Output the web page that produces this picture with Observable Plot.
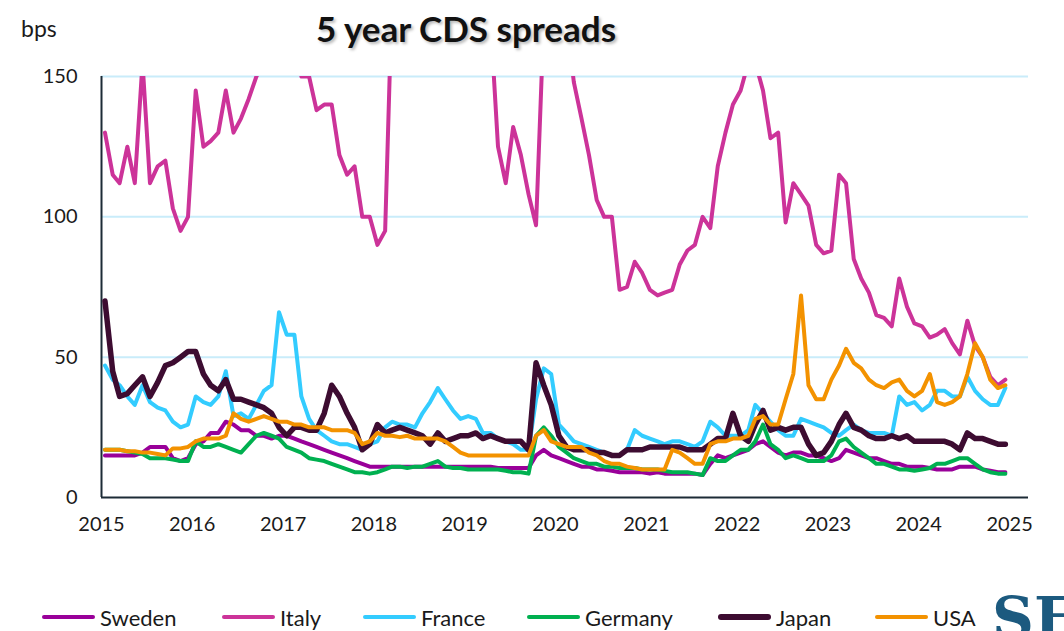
<!DOCTYPE html>
<html>
<head>
<meta charset="utf-8">
<script src="https://cdn.jsdelivr.net/npm/d3@7"></script>
<script src="https://cdn.jsdelivr.net/npm/@observablehq/plot@0.6"></script>
<style>
  body { margin: 0; background: #fff; font-family: Lato, "Open Sans", sans-serif; color: #1a1a1a; }
  #wrap { position: relative; width: 1064px; height: 631px; overflow: hidden; background: #fff; }
  #chart { position: absolute; left: 0; top: 0; }
  #title { position: absolute; left: 0; width: 932px; top: 7px; text-align: center; font-weight: 700; font-size: 35px; line-height: 42px; color: #111; text-shadow: 2px 2px 3px rgba(0,0,0,0.28); }
  #unit { position: absolute; left: 21px; top: 12px; font-size: 23px; line-height: 32px; color: #1a1a1a; }
  .leg { position: absolute; top: 603px; height: 28px; display: flex; align-items: center; font-size: 22px; color: #1a1a1a; white-space: nowrap; }
  .leg .sw { width: 53px; border-radius: 3px; margin-right: 5px; }
  #logo { position: absolute; left: 992px; top: 588px; font-family: "DejaVu Serif", serif; font-weight: 700; font-size: 58px; line-height: 60px; color: #1c5a7f; }
</style>
</head>
<body>
<div id="wrap">
  <div id="chart"></div>
  <div id="title">5 year CDS spreads</div>
  <div id="unit">bps</div>
  <div id="legend"></div>
  <div id="logo">SE</div>
</div>
<script>
// Monthly values, Jan 2015 .. Dec 2024 (one per month), bps
const names  = ["Sweden", "Italy", "France", "Germany", "Japan", "USA"];
const colors = ["#990099", "#cc3399", "#33ccff", "#00b050", "#3d0c31", "#f39200"];
const widths = [4, 4, 4, 4, 5.5, 4];
const yearTicks = [2015, 2016, 2017, 2018, 2019, 2020, 2021, 2022, 2023, 2024, 2025];
const yTicks = [0, 50, 100, 150];

const sweden = [
  15,15,15,15,15,16,18,18,18,14,13,14,
  19,20,23,23,27,26,24,24,22,22,21,22,
  22,21,20,19,18,17,16,15,14,13,12,11,
  11,11,11,11,11,11,11,11,11,11,11,11,
  11,11,11,11,10.5,10.5,10.5,10.5,10.5,15,17,15,
  14,13,12,11,11,10,10,9.5,9,9,9,9,
  8.5,9,8.5,8.5,8.5,8.5,8.5,8,12,15,14,15,
  16,17,19,20,18,16,15,16,16,15,15,14,
  13,14,17,16,15,14,14,13,12,12,11,11,
  11,10.5,10,10,10,11,11,11,10,9.5,9,9
];
const italy = [
  130,115,112,125,112,155,112,118,120,103,95,100,
  145,125,127,130,145,130,135,142,150,155,165,170,
  175,185,150,150,138,140,140,122,115,118,100,100,
  90,95,180,230,260,250,240,270,280,260,250,230,
  210,200,190,170,125,112,132,122,108,97,170,200,
  190,170,148,135,122,106,100,100,74,75,84,80,
  74,72,73,74,83,88,90,100,96,118,130,140,
  145,155,155,145,128,130,98,112,108,104,90,87,
  88,115,112,85,78,73,65,64,61,78,68,62,
  61,57,58,60,55,51,63,54,50,43,40,42
];
const france = [
  47,42,40,36,33,40,34,32,31,27,25,26,
  36,34,33,36,45,29,30,28,33,38,40,66,
  58,58,36,28,24,22,20,19,19,18,17,19,
  20,25,27,26,26,25,30,34,39,35,31,28,
  29,28,23,23,21,20,19,17,17,35,46,44,
  26,23,20,19,18,17,16,15,15,17,24,22,
  21,20,19,20,20,19,18,20,27,25,22,22,
  22,24,33,30,27,24,22,22,28,27,26,25,
  23,22,24,26,24,23,23,23,22,36,33,34,
  31,33,38,38,36,36,43,38,35,33,33,39
];
const germany = [
  17,17,17,16.5,16,15.5,14,14,14,13.5,13,13,
  20,18,18,19,18,17,16,19,22,23,22,21,
  18,17,16,14,13.5,13,12,11,10,9,9,8.5,
  9,10,11,11,10.5,11,11,12,13,11,10.5,10.5,
  10,10,10,10,10,9.5,9,9,8.5,22,25,22,
  18,16,14,13,12,12,11,11,10.5,10.5,10.5,10,
  10,10,9.5,9,9,9,8.5,8,14,13,13,15,
  17,17,20,26,19,17,14,15,14,13,13,13,
  15,20,21,18,16,14,12,12,11,10,10,9.5,
  10,10.5,12,12,13,14,14,12,10,9,8.5,8.5
];
const japan = [
  70,45,36,37,40,43,36,41,47,48,50,52,
  52,44,40,38,42,35,35,34,33,32,30,25,
  22,25,25,24,24,30,40,36,30,25,17,19,
  26,23,24,25,24,23,22,19,23,20,21,22,
  22,23,21,22,21,20,20,20,17,48,40,33,
  22,18,17,17,17,16,16,15,15,17,17,17,
  18,18,18,18,18,17,17,17,19,21,21,30,
  22,20,26,31,24,25,24,25,25,19,15,16,
  20,26,30,25,24,22,21,21,22,21,22,20,
  20,20,20,20,19,17,23,21,21,20,19,19
];
const usa = [
  17,17,17,16.5,16.5,16,16,15.5,15,17.5,17.5,18,
  20,21,21,21,22,30,28,27,28,29,28,27,
  27,26,26,25,25,25,24,24,24,23,19,20,
  23,22,22,21.5,22,21,21,21,21,20,18,16,
  15,15,15,15,15,15,15,15,15,22,24,20,
  19,18,18,18,16,15,13,12,12,11,10.5,10,
  10,10,10,17,16,14,12,12,19,20,20,21,
  21,22,28,29,26,26,35,44,72,40,35,35,
  42,47,53,48,46,42,40,39,41,42,38,36,
  38,44,34,33,34,36,44,55,50,42,39,40
];
const seriesValues = [sweden, italy, france, germany, japan, usa];

const xStart = new Date(2015, 0, 1);
const xEnd = new Date(2025, 2, 18);
const rows = vals => vals.map((v, i) => ({ date: new Date(2015, i, 15), value: v }));

const chart = Plot.plot({
  width: 1064,
  height: 560,
  marginTop: 76,
  marginBottom: 63,
  marginLeft: 101,
  marginRight: 36,
  style: { fontFamily: "Lato, sans-serif", color: "#1a1a1a", background: "transparent" },
  x: { domain: [xStart, xEnd] },
  y: { domain: [0, 150] },
  marks: [
    Plot.gridY([50, 100, 150], { stroke: "#c9ecfa", strokeOpacity: 1, strokeWidth: 2 }),
    Plot.ruleX([xStart], { stroke: "#1c2b36", strokeWidth: 2 }),
    Plot.ruleY([0], { stroke: "#1c2b36", strokeWidth: 2 }),
    ...seriesValues.map((vals, k) => Plot.line(rows(vals), {
      x: "date", y: "value", stroke: colors[k], strokeWidth: widths[k],
      strokeLinejoin: "round", strokeLinecap: "round", clip: true
    })),
    Plot.axisY(yTicks, { tickSize: 0, tickPadding: 24, fontSize: 20, label: null }),
    Plot.axisX(yearTicks.map(y => new Date(y, 0, 1)), {
      tickSize: 0, tickPadding: 19, fontSize: 20, label: null,
      tickFormat: d => String(d.getFullYear())
    })
  ]
});
document.getElementById("chart").appendChild(chart);

// legend
const legendX = [42, 222, 363, 527, 718, 875];
const legend = document.getElementById("legend");
names.forEach((n, k) => {
  const item = document.createElement("div");
  item.className = "leg";
  item.style.left = legendX[k] + "px";
  const sw = document.createElement("span");
  sw.className = "sw";
  sw.style.background = colors[k];
  sw.style.height = (k === 4 ? 6 : 4) + "px";
  item.appendChild(sw);
  const t = document.createElement("span");
  t.textContent = n;
  item.appendChild(t);
  legend.appendChild(item);
});
</script>
</body>
</html>
